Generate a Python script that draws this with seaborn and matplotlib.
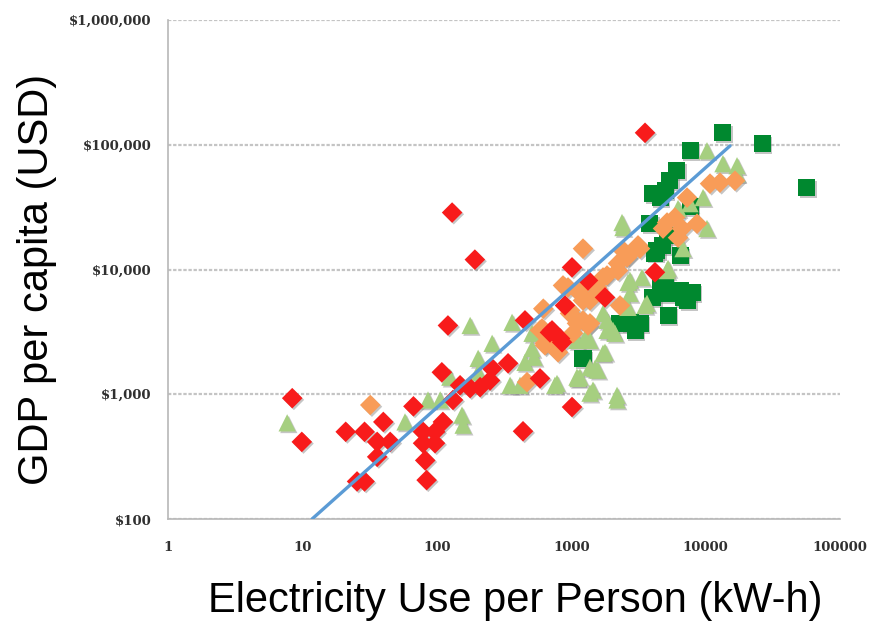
import numpy as np
import pandas as pd
import matplotlib
matplotlib.use("Agg")
import matplotlib.pyplot as plt
import matplotlib.patheffects as pe
from matplotlib.ticker import FixedLocator, FuncFormatter, NullLocator
import seaborn as sns

# electricity use per person (kWh) vs GDP per capita (USD)
red_x = [8.4, 9.9, 21, 29, 40, 36, 45, 36, 25.5, 29, 67, 79, 79, 97, 97, 111, 82, 84,
         109, 132, 121, 130, 192, 258, 249, 210, 177, 149, 339, 453, 695, 899, 855, 586,
         438, 1014, 1014, 1334, 1784, 720, 826, 3543, 4200]
red_y = [930, 415, 500, 500, 600, 415, 415, 315, 200, 200, 800, 500, 405, 500, 405, 600,
         295, 205, 1500, 900, 3560, 28600, 12000, 1610, 1290, 1140, 1120, 1180, 1770, 3910,
         3130, 5150, 2610, 1340, 505, 790, 10400, 8170, 5970, 3250, 2800, 124700, 9500]

orange_x = [32, 469, 607, 638, 798, 980, 1104, 1031, 1224, 1847, 2230, 2647, 3251, 1162,
            1380, 980, 1224, 2307, 1334, 638, 10790, 12800, 16550, 7278, 5919, 5166, 6673,
            8635, 6237, 2427, 3141, 2230, 2600, 1725, 1556, 1203, 1224, 947, 1380, 869,
            620, 586, 4822]
orange_y = [820, 1250, 3370, 2470, 2170, 4450, 3700, 3080, 14700, 8950, 11200, 12900,
            14700, 6430, 5650, 4700, 3910, 5150, 3560, 2560, 48800, 49700, 51500, 37700,
            26100, 23800, 21300, 23300, 18000, 14200, 15600, 9800, 12500, 8630, 7180, 7180,
            5650, 7180, 3700, 7450, 4850, 3250, 21300]

lgreen_x = [7.7, 58, 86, 106, 125, 154, 157, 177, 203, 203, 258, 363, 351, 416, 453, 511,
            511, 757, 1124, 1380, 1503, 1104, 1267, 1104, 1380, 1847, 2047, 1784, 1582, 784,
            2193, 2427, 2740, 3543, 5166, 10240, 13460, 17130, 17130, 9572, 7656, 6237,
            10240, 2388, 6792, 5253, 2647, 3365, 2740, 3666, 2647, 1725, 1847, 2118, 1725,
            1380, 1162, 1453, 2193, 530]
lgreen_y = [590, 600, 900, 900, 1370, 680, 565, 3560, 1940, 1500, 2560, 3770, 1180, 1180,
            1800, 3080, 2330, 1180, 1340, 1020, 1610, 2700, 2800, 1370, 2700, 3910, 3250,
            2170, 1560, 1220, 900, 21700, 8170, 5150, 9800, 89500, 70500, 67900, 58600,
            37700, 33700, 30800, 21300, 23800, 14700, 10200, 7870, 8630, 6430, 5350, 4970,
            4450, 3250, 3080, 2130, 1640, 1370, 1080, 980, 1980]

dgreen_x = [13460, 26300, 56800, 7656, 6124, 5433, 4582, 4060, 4990, 3857, 4348, 6454,
            5166, 4582, 5166, 6792, 4060, 7396, 7925, 4990, 6454, 5253, 2740, 3251, 2307,
            2985, 1224, 4800, 7656, 4200]
dgreen_y = [124700, 101900, 45300, 89500, 61900, 51500, 37700, 40600, 43000, 23300, 14200,
            12900, 18700, 8170, 6430, 5970, 5970, 5650, 6550, 7450, 6790, 4290, 3770, 3700,
            3700, 3250, 1940, 15500, 32000, 13500]

# power trendline end points
trend_x = [11.8, 15200]
trend_y = [100, 98000]

x_ticks = [1, 10, 100, 1000, 10000, 100000]
y_ticks = [100, 1000, 10000, 100000, 1000000]

groups = ["high", "upper", "lower", "low"]
df = pd.concat([
    pd.DataFrame({"kwh": dgreen_x, "gdp": dgreen_y, "group": "high"}),
    pd.DataFrame({"kwh": lgreen_x, "gdp": lgreen_y, "group": "upper"}),
    pd.DataFrame({"kwh": orange_x, "gdp": orange_y, "group": "lower"}),
    pd.DataFrame({"kwh": red_x, "gdp": red_y, "group": "low"}),
], ignore_index=True)

palette = {"high": "#00882F", "upper": "#A6CF80", "lower": "#F89C58", "low": "#F81B1B"}
markers = {"high": "s", "upper": "^", "lower": "D", "low": "D"}
sizes = {"high": 150, "upper": 155, "lower": 110, "low": 110}

sns.set_style("white")
plt.rcParams["font.family"] = ["DejaVu Sans"]

fig = plt.figure(figsize=(8.73, 6.22), dpi=100)
ax = fig.add_axes([168 / 873, 103 / 622, 672 / 873, 499 / 622])
ax.set_xscale("log")
ax.set_yscale("log")

sns.scatterplot(data=df, x="kwh", y="gdp", hue="group", style="group", size="group",
                palette=palette, markers=markers, sizes=sizes, hue_order=groups,
                style_order=groups, size_order=groups, linewidth=0, legend=False,
                ax=ax, zorder=3)
ax.collections[-1].set_path_effects([
    pe.SimplePatchShadow(offset=(1.2, -1.2), shadow_rgbFace="#808080", alpha=0.45),
    pe.Normal()])

sns.lineplot(x=trend_x, y=trend_y, color="#5B9BD5", lw=2.4, ax=ax, zorder=4)

ax.set_xlim(1, 100000)
ax.set_ylim(100, 1000000)
ax.xaxis.set_major_locator(FixedLocator(x_ticks))
ax.yaxis.set_major_locator(FixedLocator(y_ticks))
ax.xaxis.set_minor_locator(NullLocator())
ax.yaxis.set_minor_locator(NullLocator())
ax.xaxis.set_major_formatter(FuncFormatter(lambda v, p: f"{v:.0f}"))
ax.yaxis.set_major_formatter(FuncFormatter(lambda v, p: f"${v:,.0f}"))

ax.grid(axis="y", color="#C4C4C4", lw=1.6, ls=(0, (1.5, 0.8)), zorder=0)
ax.grid(axis="x", visible=False)
for side in ["top", "right"]:
    ax.spines[side].set_visible(False)
for side in ["left", "bottom"]:
    ax.spines[side].set_color("#B8B8B8")
    ax.spines[side].set_linewidth(1.2)

ax.tick_params(axis="x", direction="in", length=4, width=1, color="#B0B0B0",
               pad=16, labelcolor="#303030")
ax.tick_params(axis="y", direction="out", length=4, width=1, color="#B0B0B0",
               pad=8, labelcolor="#303030")
for lab in ax.get_xticklabels() + ax.get_yticklabels():
    lab.set_fontfamily("DejaVu Serif")
    lab.set_fontsize(9.5)
    lab.set_fontweight("bold")

ax.set_xlabel("Electricity Use per Person (kW-h)", fontsize=30, family="Liberation Sans",
              color="black")
ax.set_ylabel("GDP per capita (USD)", fontsize=30, family="Liberation Sans",
              color="black")
ax.xaxis.set_label_coords(0.516, -0.125)
ax.yaxis.set_label_coords(-0.165, 0.48)

fig.savefig("out.png", dpi=100)
